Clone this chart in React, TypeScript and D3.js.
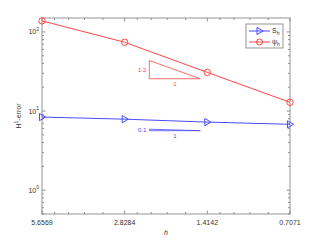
import React from 'react';
import * as d3 from 'd3';

// mesh sizes (x axis, reversed log)
const hValues = [5.6569, 2.8284, 1.4142, 0.7071];
// H1 errors
const sErrors = [8.4, 7.9, 7.25, 6.8];
const psiErrors = [138, 74, 30.8, 12.9];
// linear minor ticks within each octave
const minorFactors = [1.2, 1.4, 1.6, 1.8];
const yMajor = [1, 10, 100];
const yMajorLabels = ['0', '1', '2'];

// slope triangles: [h, value] corners
const psiTriangle = [[2.3, 25.6], [2.3, 43.5], [1.5, 25.6]];
const sTriangle = [[2.3, 5.65], [2.3, 5.9], [1.5, 5.65]];

const RED = '#ff4545';
const BLUE = '#4b4bff';
const AXIS = '#7a7a7a';
const TEXT = '#333';

const App = () => {
  const W = 321;
  const H = 241;
  const margin = { top: 18, right: 31, bottom: 27, left: 42 };
  const left = margin.left;
  const right = W - margin.right;
  const top = margin.top;
  const bottom = H - margin.bottom;

  const x = d3.scaleLog().domain([5.6569, 0.7071]).range([left, right]);
  const y = d3.scaleLog().domain([0.5, 150]).range([bottom, top]);

  const xMinor = hValues.slice(1).flatMap(h => minorFactors.map(f => h * f));
  const yMinor = y.ticks().filter(t => !yMajor.some(m => Math.abs(m - t) < 1e-9));

  const line = d3.line<number>()
    .x((_, i) => x(hValues[i]))
    .y(d => y(d));

  const triPath = (pts: number[][]) =>
    d3.line<number[]>().x(p => x(p[0])).y(p => y(p[1]))(pts) + 'Z';

  const tri = (cx: number, cy: number, r = 3.6) =>
    `M${cx - r * 0.7},${cy - r}L${cx + r},${cy}L${cx - r * 0.7},${cy + r}Z`;

  const font = '"Liberation Sans", Arial, sans-serif';

  return (
    <svg width={W} height={H} style={{ position: 'fixed', left: 0, top: 0 }} fontFamily={font}>
      <rect width={W} height={H} fill="#fff" />

      {/* x ticks (bottom and top, pointing inward) */}
      {hValues.map((h, i) => (
        <g key={`xm-${i}`} stroke={AXIS} strokeWidth={0.8}>
          <line x1={x(h)} x2={x(h)} y1={bottom} y2={bottom - 3.5} />
          <line x1={x(h)} x2={x(h)} y1={top} y2={top + 3.5} />
        </g>
      ))}
      {xMinor.map((h, i) => (
        <g key={`xn-${i}`} stroke={AXIS} strokeWidth={0.8}>
          <line x1={x(h)} x2={x(h)} y1={bottom} y2={bottom - 2} />
          <line x1={x(h)} x2={x(h)} y1={top} y2={top + 2} />
        </g>
      ))}

      {/* y ticks */}
      {yMajor.map((v, i) => (
        <g key={`ym-${i}`} stroke={AXIS} strokeWidth={0.8}>
          <line x1={left} x2={left + 3.5} y1={y(v)} y2={y(v)} />
          <line x1={right} x2={right - 3.5} y1={y(v)} y2={y(v)} />
        </g>
      ))}
      {yMinor.map((v, i) => (
        <g key={`yn-${i}`} stroke={AXIS} strokeWidth={0.8}>
          <line x1={left} x2={left + 2} y1={y(v)} y2={y(v)} />
          <line x1={right} x2={right - 2} y1={y(v)} y2={y(v)} />
        </g>
      ))}

      {/* frame */}
      <rect x={left} y={top} width={right - left} height={bottom - top} fill="none" stroke={AXIS} strokeWidth={0.8} />

      {/* tick labels */}
      {hValues.map((h, i) => (
        <text key={`xl-${i}`} x={x(h)} y={bottom + 11} textAnchor="middle" fontSize={7} fill={TEXT}>
          {h.toFixed(4)}
        </text>
      ))}
      {yMajor.map((v, i) => (
        <text key={`yl-${i}`} x={left - 3} y={y(v) + 2.5} textAnchor="end" fontSize={7} fill={TEXT}>
          10<tspan dy={-3.5} fontSize={5}>{yMajorLabels[i]}</tspan>
        </text>
      ))}

      {/* axis labels */}
      <text x={(left + right) / 2} y={bottom + 21} textAnchor="middle" fontSize={7} fontStyle="italic" fill={TEXT}>h</text>
      <text transform={`translate(21,${(top + bottom) / 2}) rotate(-90)`} textAnchor="middle" fontSize={7} fill={TEXT}>
        H<tspan dy={-3} fontSize={5}>1</tspan><tspan dy={3}>-error</tspan>
      </text>

      {/* series */}
      <path d={line(psiErrors) ?? ''} fill="none" stroke={RED} strokeWidth={1} />
      <path d={line(sErrors) ?? ''} fill="none" stroke={BLUE} strokeWidth={1} />
      {psiErrors.map((v, i) => (
        <circle key={`pc-${i}`} cx={x(hValues[i])} cy={y(v)} r={3.2} fill="none" stroke={RED} strokeWidth={1} />
      ))}
      {sErrors.map((v, i) => (
        <path key={`st-${i}`} d={tri(x(hValues[i]), y(v))} fill="none" stroke={BLUE} strokeWidth={1} />
      ))}

      {/* slope triangles */}
      <path d={triPath(psiTriangle)} fill="none" stroke={RED} strokeWidth={0.8} />
      <text x={x(psiTriangle[0][0]) - 3} y={(y(psiTriangle[0][1]) + y(psiTriangle[1][1])) / 2 + 2} textAnchor="end" fontSize={6} fill={RED}>1.2</text>
      <text x={(x(psiTriangle[0][0]) + x(psiTriangle[2][0])) / 2} y={y(psiTriangle[0][1]) + 7} textAnchor="middle" fontSize={6} fill={RED}>1</text>

      <path d={triPath(sTriangle)} fill="none" stroke={BLUE} strokeWidth={0.8} />
      <text x={x(sTriangle[0][0]) - 3} y={y(sTriangle[0][1]) + 1} textAnchor="end" fontSize={6} fill={BLUE}>0.1</text>
      <text x={(x(sTriangle[0][0]) + x(sTriangle[2][0])) / 2} y={y(sTriangle[0][1]) + 7} textAnchor="middle" fontSize={6} fill={BLUE}>1</text>

      {/* legend */}
      <g>
        <rect x={246} y={24} width={37} height={24} fill="#fff" stroke={AXIS} strokeWidth={0.8} />
        <line x1={249} x2={270} y1={31} y2={31} stroke={BLUE} strokeWidth={1} />
        <path d={tri(259.5, 31)} fill="none" stroke={BLUE} strokeWidth={1} />
        <text x={272} y={33} fontSize={7} fill={TEXT}>S<tspan dy={2} fontSize={5}>h</tspan></text>
        <line x1={249} x2={270} y1={42} y2={42} stroke={RED} strokeWidth={1} />
        <circle cx={259.5} cy={42} r={3} fill="none" stroke={RED} strokeWidth={1} />
        <text x={272} y={44} fontSize={7} fill={TEXT}>ψ<tspan dy={2} fontSize={5}>h</tspan></text>
      </g>
    </svg>
  );
};

export default App;
